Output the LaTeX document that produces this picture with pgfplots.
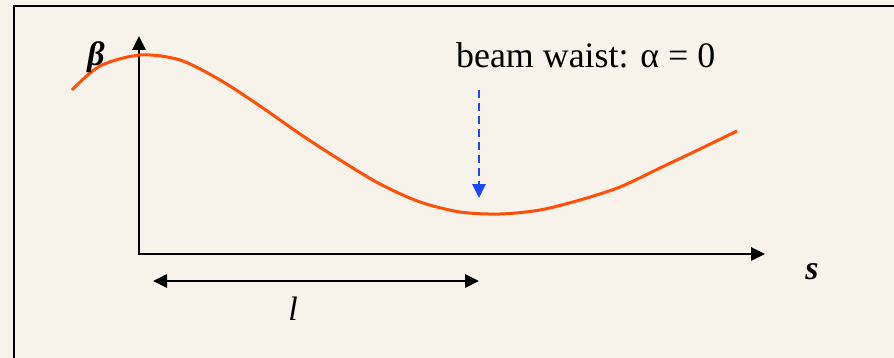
\documentclass[border=0pt]{standalone}
\usepackage{pgfplots}
\pgfplotsset{compat=1.18}
\usepackage{fontspec}
\setmainfont{Liberation Serif}
\usetikzlibrary{arrows.meta}
\definecolor{bgcol}{RGB}{248,243,234}
\definecolor{curvecol}{RGB}{255,80,10}
\definecolor{waistcol}{RGB}{30,70,250}
\begin{document}
\begin{tikzpicture}
  \begin{axis}[
      scale only axis,
      width=894bp, height=358bp,
      xmin=0, xmax=894, ymin=0, ymax=358,
      y dir=reverse,
      hide axis,
      clip=true,
    ]
    % background and frame
    \addplot[draw=none, fill=bgcol] coordinates {(0,0) (894,0) (894,358) (0,358)} -- cycle;
    \addplot[black, line width=2.4bp] coordinates {(14,358) (14,6) (894,6)};
    % axes
    \addplot[black, line width=2.8bp, -{Triangle[length=14bp,width=13bp]}] coordinates {(139,255) (139,36)};
    \addplot[black, line width=2.8bp, -{Triangle[length=14bp,width=13bp]}] coordinates {(138,254) (765,254)};
    % length l
    \addplot[black, line width=2.8bp, {Triangle[length=14bp,width=13bp]}-{Triangle[length=14bp,width=13bp]}] coordinates {(153,281) (479,281)};
    % beta function
    \addplot[curvecol, line width=3bp, smooth] coordinates {
      (72,90) (100,66) (140,55) (180,60) (220,80) (260,106) (300,134)
      (340,160) (380,184) (420,202) (460,212) (500,214) (540,210)
      (580,200) (620,187) (660,168) (700,149) (737,131)};
    % waist marker
    \addplot[waistcol, line width=2.8bp, dash pattern=on 8bp off 5bp, -{Triangle[length=14bp,width=13bp]}] coordinates {(479,90) (479,198)};
    \node[font=\fontsize{34}{40}\selectfont\bfseries\itshape] at (axis cs:96,57) {β};
    \node[font=\fontsize{36}{40}\selectfont, anchor=base west, inner sep=0pt] at (axis cs:456,67) {beam waist: α = 0};
    \node[font=\fontsize{34}{40}\selectfont\bfseries\itshape] at (axis cs:812,272) {s};
    \node[font=\fontsize{34}{40}\selectfont\itshape] at (axis cs:293,309) {l};
  \end{axis}
\end{tikzpicture}
\end{document}
